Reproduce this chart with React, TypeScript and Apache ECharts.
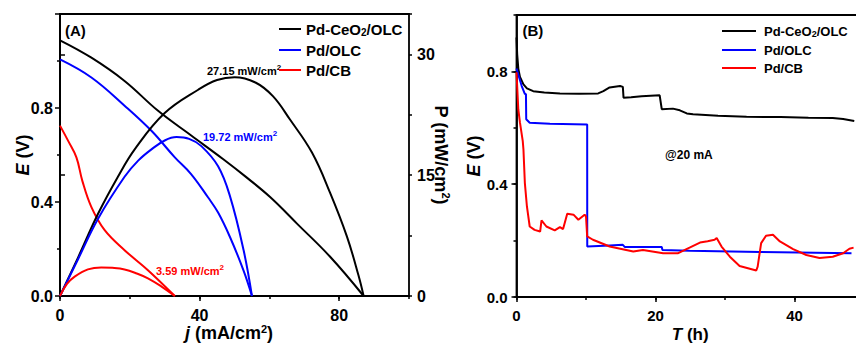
import React, { useEffect, useRef } from 'react';
import * as echarts from 'echarts';

const FONT = "'Liberation Sans', Arial, Helvetica, sans-serif";

const seriesNames = ['Pd-CeO2/OLC', 'Pd/OLC', 'Pd/CB'];
const seriesColors = ['#000000', '#0000ff', '#ff0000'];

// Panel A: polarization (E vs j) curves, [j (mA/cm2), E (V)]
const aCeoE: [number, number][] = [
  [0, 1.088], [9, 1.014], [18.5, 0.915], [28.1, 0.788], [37.6, 0.683], [46.7, 0.583],
  [53, 0.51], [60.2, 0.421], [67.9, 0.308], [77.4, 0.167], [87, 0],
];
const aOlcE: [number, number][] = [
  [0, 1.007], [9, 0.93], [18.5, 0.81], [26.2, 0.703], [32.9, 0.59], [37.5, 0.52],
  [42.4, 0.42], [45.3, 0.355], [48.7, 0.251], [52.6, 0.108], [55, 0],
];
const aCbE: [number, number][] = [
  [0, 0.725], [2.3, 0.661], [4.7, 0.59], [6.4, 0.49], [9.0, 0.378], [12.8, 0.28],
  [18.5, 0.195], [25.2, 0.11], [32.9, 0],
];

// Panel A: power density curves, [j (mA/cm2), P (mW/cm2)]
const aCeoP: [number, number][] = [
  [0, 0], [5.2, 4.8], [10.9, 10.2], [16.6, 14.8], [21.4, 18.2], [30, 22.7], [39.6, 25.6],
  [45, 26.8], [50, 27.15], [56, 26.5], [61, 24.8], [65.9, 21.9], [72.2, 17.8],
  [77.4, 12.8], [82.2, 7.4], [85.5, 2.6], [87, 0],
];
const aOlcP: [number, number][] = [
  [0, 0], [5.2, 4.6], [10.9, 9.6], [18.5, 14.8], [22.4, 16.8], [26.2, 18.2], [30, 19.3],
  [33.4, 19.72], [37, 19.5], [40.5, 18.6], [45.3, 16.1], [48.7, 12.4], [52.6, 5.7], [55, 0],
];
const aCbP: [number, number][] = [
  [0, 0], [2, 1.5], [4.2, 2.4], [8, 3.3], [11.8, 3.55], [15, 3.5], [18.5, 3.3], [22, 2.8],
  [25.2, 2.2], [29, 1.2], [32.9, 0],
];

// Panel B: stability at 20 mA, [T (h), E (V)]
const bCeoE: [number, number][] = [
  [0, 0.92], [0.1, 0.86], [0.26, 0.81], [0.5, 0.78], [1.0, 0.754], [1.5, 0.74], [2.4, 0.73],
  [4, 0.725], [6.25, 0.722], [9, 0.721], [11.75, 0.722], [12.5, 0.73], [13.4, 0.743],
  [14.9, 0.748], [15.3, 0.745], [15.4, 0.707], [16.5, 0.708], [18, 0.712], [20.6, 0.715],
  [20.9, 0.666], [22.5, 0.668], [23.5, 0.662], [24.5, 0.651], [25.4, 0.648], [29, 0.643],
  [33.1, 0.639], [38, 0.638], [42, 0.636], [45.5, 0.635], [47, 0.631], [48.6, 0.624],
];
const bOlcE: [number, number][] = [
  [0, 0.81], [0.75, 0.748], [1.2, 0.72], [1.36, 0.72], [1.4, 0.63], [1.9, 0.618],
  [4.8, 0.614], [10.17, 0.612], [10.18, 0.179], [13.4, 0.183], [15.3, 0.185], [15.6, 0.177],
  [20.9, 0.177], [21.0, 0.167], [24.9, 0.164], [35, 0.16], [48.2, 0.155],
];
const bCbE: [number, number][] = [
  [0, 0.797], [0.26, 0.665], [0.5, 0.618], [0.9, 0.553], [1.0, 0.523], [1.2, 0.405],
  [1.5, 0.321], [1.9, 0.25], [2.6, 0.238], [3.4, 0.232], [3.6, 0.272], [4.3, 0.25],
  [5.5, 0.236], [6.25, 0.248], [6.7, 0.241], [7.3, 0.295], [8.2, 0.292], [8.9, 0.274],
  [9.8, 0.292], [10.0, 0.286], [10.17, 0.215], [11, 0.203], [13.4, 0.179], [16.8, 0.161],
  [18.2, 0.167], [21.1, 0.155], [23.2, 0.155], [24.9, 0.175], [26.4, 0.193], [27.5, 0.198],
  [28.5, 0.203], [28.8, 0.209], [29.5, 0.179], [30.7, 0.143], [32.1, 0.11], [34.5, 0.094],
  [34.7, 0.108], [35.2, 0.191], [35.9, 0.217], [36.9, 0.221], [37.9, 0.197], [39.8, 0.17],
  [41.7, 0.149], [43.6, 0.138], [45.5, 0.143], [47, 0.155], [47.9, 0.171], [48.5, 0.175],
];

const peakLabels = ['27.15 mW/cm', '19.72 mW/cm', '3.59 mW/cm'];
const conditionLabel = '@20 mA';

const txt = (size: number, extra: any = {}) => ({
  fontFamily: FONT,
  fontWeight: 'bold',
  fontSize: size,
  color: '#000',
  ...extra,
});

const axisNameRich = (size: number) => ({
  i: txt(size, { fontStyle: 'italic', lineHeight: 20 }),
  n: txt(size, { lineHeight: 20 }),
  s: txt(Math.round(size * 0.6), { verticalAlign: 'top', lineHeight: 12 }),
});

const legendFormatter = (name: string) =>
  name === 'Pd-CeO2/OLC' ? '{f|Pd-CeO}{s|2}{n|/OLC}' : `{f|${name}}`;

const baseAxisLine = { show: true, lineStyle: { color: '#000', width: 1.8 } };

export default function App() {
  const ref = useRef<HTMLDivElement>(null);

  useEffect(() => {
    if (!ref.current) return;
    const chart = echarts.init(ref.current, undefined, { renderer: 'svg' });

    const lineSeries = (
      name: string,
      color: string,
      data: [number, number][],
      xAxisIndex: number,
      yAxisIndex: number,
      smooth: boolean
    ) => ({
      type: 'line',
      name,
      data,
      xAxisIndex,
      yAxisIndex,
      showSymbol: false,
      symbol: 'none',
      smooth: smooth ? 0.4 : false,
      lineStyle: { color, width: 2 },
      itemStyle: { color },
      emphasis: { disabled: true },
    });

    const labelStyle = (size: number, margin: number, extra: any = {}) => ({
      color: '#000',
      fontFamily: FONT,
      fontWeight: 'bold',
      fontSize: size,
      margin,
      showMaxLabel: false,
      ...extra,
    });

    const annotation = (x: number, y: number, text: string, color: string, size: number, sup = true) => ({
      type: 'text',
      x,
      y,
      style: {
        text: sup ? `{n|${text}}{s|2}` : `{n|${text}}`,
        align: 'left',
        verticalAlign: 'middle',
        rich: {
          n: { fontFamily: FONT, fontWeight: 'bold', fontSize: size, fill: color, color, lineHeight: size + 4 },
          s: { fontFamily: FONT, fontWeight: 'bold', fontSize: size - 3, fill: color, color, verticalAlign: 'top', lineHeight: size - 3 },
        },
      },
    });

    const gridBase = {
      show: true,
      borderColor: '#000',
      borderWidth: 1.8,
      backgroundColor: 'transparent',
      containLabel: false,
      outerBoundsMode: 'none',
    };

    const option: any = {
      animation: false,
      backgroundColor: '#ffffff',
      grid: [
        { ...gridBase, left: 60, top: 14, width: 349, height: 282 },
        { ...gridBase, left: 516.5, top: 15, width: 347.5, height: 282 },
      ],
      xAxis: [
        {
          gridIndex: 0, type: 'value', position: 'bottom', min: 0, max: 100, interval: 40,
          axisLine: baseAxisLine,
          axisTick: { show: true, length: 5, lineStyle: { color: '#000', width: 1.5 } },
          axisLabel: labelStyle(16, 11),
          splitLine: { show: false },
          name: '{i|j}{n| (mA/cm}{s|2}{n|)}',
          nameLocation: 'middle',
          nameGap: 27,
          nameMoveOverlap: false,
          nameTextStyle: { padding: [0, 11, 0, 0], rich: axisNameRich(18) },
        },
        {
          gridIndex: 0, type: 'value', position: 'bottom', min: 0, max: 100, interval: 20,
          axisLine: { show: false },
          axisTick: { show: true, length: 3, lineStyle: { color: '#000', width: 1.5 } },
          axisLabel: { show: false },
          splitLine: { show: false },
        },
        {
          gridIndex: 1, type: 'value', position: 'bottom', min: 0, max: 50, interval: 20,
          axisLine: baseAxisLine,
          axisTick: { show: true, length: 5, lineStyle: { color: '#000', width: 1.5 } },
          axisLabel: labelStyle(15, 11),
          splitLine: { show: false },
          name: '{i|T}{n| (h)}',
          nameLocation: 'middle',
          nameGap: 27,
          nameMoveOverlap: false,
          nameTextStyle: { rich: axisNameRich(17) },
        },
        {
          gridIndex: 1, type: 'value', position: 'bottom', min: 0, max: 50, interval: 10,
          axisLine: { show: false },
          axisTick: { show: true, length: 3, lineStyle: { color: '#000', width: 1.5 } },
          axisLabel: { show: false },
          splitLine: { show: false },
        },
      ],
      yAxis: [
        {
          gridIndex: 0, type: 'value', position: 'left', min: 0, max: 1.2, interval: 0.4,
          axisLine: baseAxisLine,
          axisTick: { show: true, length: 5, lineStyle: { color: '#000', width: 1.5 } },
          minorTick: { show: true, splitNumber: 2, length: 3, lineStyle: { color: '#000', width: 1.5 } },
          axisLabel: labelStyle(16, 7, { formatter: (v: number) => v.toFixed(1) }),
          splitLine: { show: false },
          minorSplitLine: { show: false },
          name: '{i|E}{n| (V)}',
          nameLocation: 'middle',
          nameRotate: 90,
          nameGap: 27,
          nameMoveOverlap: false,
          nameTextStyle: { rich: axisNameRich(18) },
        },
        {
          gridIndex: 0, type: 'value', position: 'right', min: 0, max: 35, interval: 15,
          axisLine: baseAxisLine,
          axisTick: { show: true, length: 5, lineStyle: { color: '#000', width: 1.5 } },
          axisLabel: labelStyle(16, 8),
          splitLine: { show: false },
          name: '{n|P (mW/cm}{s|2}{n|)}',
          nameLocation: 'middle',
          nameRotate: -90,
          nameGap: 22,
          nameMoveOverlap: false,
          nameTextStyle: { rich: axisNameRich(18) },
        },
        {
          gridIndex: 0, type: 'value', position: 'right', min: 0, max: 35, interval: 7.5,
          axisLine: { show: false },
          axisTick: { show: true, length: 3, lineStyle: { color: '#000', width: 1.5 } },
          axisLabel: { show: false },
          splitLine: { show: false },
        },
        {
          gridIndex: 1, type: 'value', position: 'left', min: 0, max: 1.0, interval: 0.4,
          axisLine: baseAxisLine,
          axisTick: { show: true, length: 5, lineStyle: { color: '#000', width: 1.5 } },
          axisLabel: labelStyle(15, 9, { formatter: (v: number) => v.toFixed(1) }),
          splitLine: { show: false },
          name: '{i|E}{n| (V)}',
          nameLocation: 'middle',
          nameRotate: 90,
          nameGap: 33,
          nameMoveOverlap: false,
          nameTextStyle: { rich: axisNameRich(18) },
        },
        {
          gridIndex: 1, type: 'value', position: 'left', min: 0, max: 1.0, interval: 0.2,
          axisLine: { show: false },
          axisTick: { show: true, length: 3, lineStyle: { color: '#000', width: 1.5 } },
          axisLabel: { show: false },
          splitLine: { show: false },
        },
      ],
      legend: [
        {
          orient: 'vertical', left: 279, top: 21.5, padding: 0, itemGap: 5,
          itemWidth: 22, itemHeight: 2, icon: 'rect',
          data: seriesNames,
          formatter: legendFormatter,
          textStyle: {
            rich: {
              f: txt(15, { lineHeight: 17 }),
              n: txt(15, { lineHeight: 17 }),
              s: txt(10, { verticalAlign: 'bottom', lineHeight: 10 }),
            },
          },
        },
        {
          orient: 'vertical', left: 722, top: 24.5, padding: 0, itemGap: 5,
          itemWidth: 34, itemHeight: 2, icon: 'rect',
          data: seriesNames,
          formatter: legendFormatter,
          textStyle: {
            rich: {
              f: txt(13, { lineHeight: 15, padding: [0, 0, 0, 3] }),
              n: txt(13, { lineHeight: 15 }),
              s: txt(9, { verticalAlign: 'bottom', lineHeight: 9 }),
            },
          },
        },
      ],
      graphic: [
        { type: 'text', x: 65, y: 30, style: { text: '(A)', fontFamily: FONT, fontWeight: 'bold', fontSize: 15, fill: '#000', verticalAlign: 'middle' } },
        { type: 'text', x: 522.5, y: 30, style: { text: '(B)', fontFamily: FONT, fontWeight: 'bold', fontSize: 15, fill: '#000', verticalAlign: 'middle' } },
        annotation(207, 71, peakLabels[0], '#000000', 11),
        annotation(203, 137, peakLabels[1], '#0000ff', 11),
        annotation(156, 270.5, peakLabels[2], '#ff0000', 11),
        annotation(665, 155, conditionLabel, '#000000', 12, false),
      ],
      series: [
        lineSeries(seriesNames[0], seriesColors[0], aCeoE, 0, 0, true),
        lineSeries(seriesNames[1], seriesColors[1], aOlcE, 0, 0, true),
        lineSeries(seriesNames[2], seriesColors[2], aCbE, 0, 0, true),
        lineSeries(seriesNames[0], seriesColors[0], aCeoP, 0, 1, true),
        lineSeries(seriesNames[1], seriesColors[1], aOlcP, 0, 1, true),
        lineSeries(seriesNames[2], seriesColors[2], aCbP, 0, 1, true),
        lineSeries(seriesNames[0], seriesColors[0], bCeoE, 2, 3, false),
        lineSeries(seriesNames[1], seriesColors[1], bOlcE, 2, 3, false),
        lineSeries(seriesNames[2], seriesColors[2], bCbE, 2, 3, false),
      ],
    };

    chart.setOption(option);
    return () => chart.dispose();
  }, []);

  return (
    <div
      ref={ref}
      style={{ position: 'fixed', left: 0, top: 0, width: 856, height: 345, overflow: 'hidden', background: '#fff' }}
    />
  );
}
